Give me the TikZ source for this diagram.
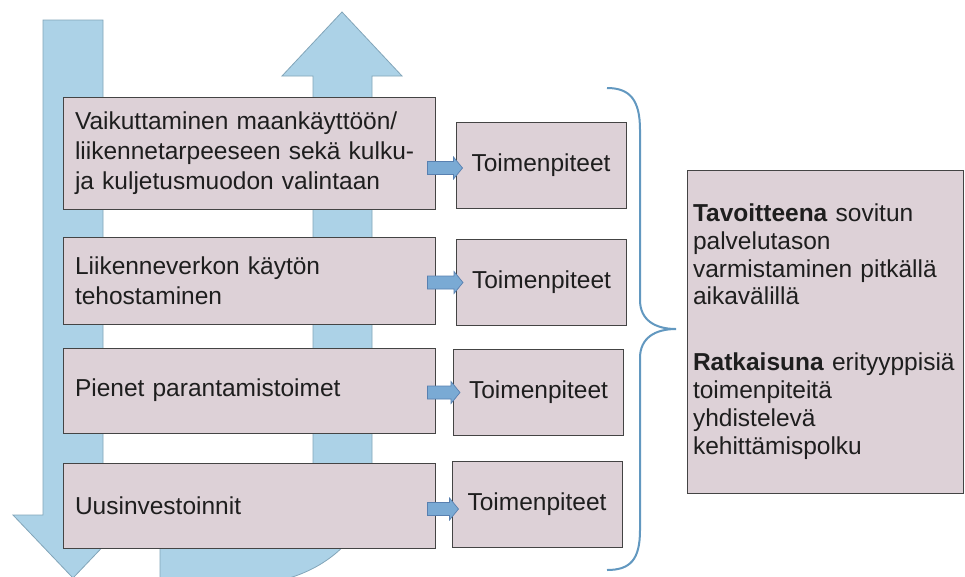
\documentclass[tikz,border=0pt]{standalone}
\usepackage{fontspec}
\setmainfont{Liberation Sans}
\usetikzlibrary{calc}
\definecolor{boxfill}{RGB}{221,209,215}
\definecolor{boxline}{RGB}{68,68,68}
\definecolor{flowblue}{RGB}{172,210,231}
\definecolor{flowline}{RGB}{130,165,185}
\definecolor{linkblue}{RGB}{122,170,212}
\definecolor{linkline}{RGB}{88,128,176}
\definecolor{bracecol}{RGB}{98,152,192}
\definecolor{ink}{RGB}{30,30,30}

\begin{document}
\begin{tikzpicture}[x=1pt,y=-1pt,
  stagebox/.style={draw=boxline, line width=1pt, fill=boxfill, rectangle, text=ink,
    align=left, text width=348pt, inner xsep=12pt, inner ysep=0pt,
    font=\fontsize{24.5}{30}\selectfont},
  actbox/.style={draw=boxline, line width=1pt, fill=boxfill, text=ink,
    minimum width=170pt, minimum height=86pt, inner sep=0pt,
    font=\fontsize{24.5}{30}\selectfont},
  goalbox/.style={draw=boxline, line width=1pt, fill=boxfill, text=ink,
    minimum width=276pt, minimum height=323pt, text width=264pt, inner xsep=6pt,
    align=left, font=\fontsize{24.5}{27.8}\selectfont},
  flow/.style={fill=flowblue, draw=flowline, line width=0.8pt, line join=miter},
  blockarrow/.style={fill=linkblue, draw=linkline, line width=0.7pt,
    to path={($(\tikztostart)+(0,-6.5)$) -- ($(\tikztotarget)+(-9,-6.5)$)
      -- ($(\tikztotarget)+(-9,-11)$) -- (\tikztotarget)
      -- ($(\tikztotarget)+(-9,11)$) -- ($(\tikztotarget)+(-9,6.5)$)
      -- ($(\tikztostart)+(0,6.5)$) -- cycle}},
]
\useasboundingbox (0,0) rectangle (965,576);
\clip (0,0) rectangle (965,576);
\fill[white] (0,0) rectangle (965,576);

% downward planning arrow
\path[flow] (43,20) -- (103,20) -- (103,515) -- (133,515) -- (73,578)
  -- (13,515) -- (43,515) -- cycle;
% upward arrow with its curved foot
\path[flow] (313,76) -- (282,76) -- (342,12) -- (402,76) -- (372,76) -- (372,480)
  .. controls (372,535) and (320,585) .. (240,585) -- (160,585) -- (160,500)
  -- (313,500) -- cycle;

% stages
\node[stagebox, minimum height=112pt] (B1) at (249,153)
  {Vaikuttaminen maankäyttöön/\\liikennetarpeeseen sekä kulku-\\ja kuljetusmuodon valintaan};
\node[stagebox, minimum height=87pt] (B2) at (249,280.5)
  {Liikenneverkon käytön\\tehostaminen};
\node[stagebox, minimum height=85pt] (B3) at (249,390.5)
  {Pienet parantamistoimet};
\node[stagebox, minimum height=85pt] (B4) at (249,505.5)
  {Uusinvestoinnit};

% measures
\node[actbox] (T1) at (541,165) {Toimenpiteet};
\node[actbox] (T2) at (541.5,282.5) {Toimenpiteet};
\node[actbox] (T3) at (538.5,392.5) {Toimenpiteet};
\node[actbox] (T4) at (537,504) {Toimenpiteet};

% links from stages to measures
\draw[blockarrow] ($(B1.east |- T1.west)+(-8,3)$) to ($(T1.west)+(7,3)$);
\draw[blockarrow] ($(B2.east |- T2.west)+(-8,0)$) to ($(T2.west)+(7,0)$);
\draw[blockarrow] ($(B3.east |- T3.west)+(-8,0)$) to ($(T3.west)+(7,0)$);
\draw[blockarrow] ($(B4.east |- T4.west)+(-8,5)$) to ($(T4.west)+(7,5)$);

% brace
\draw[bracecol, line width=2pt] (607,88) .. controls (630,88) and (640,100) .. (640,130)
  -- (640,300) .. controls (640,320) and (655,329) .. (676,329)
  .. controls (655,329) and (640,338) .. (640,358)
  -- (640,530) .. controls (640,560) and (630,570) .. (607,570);

% goal
\node[goalbox] (R) at (825,331.5)
  {\textbf{Tavoitteena} sovitun\\palvelutason\\varmistaminen pitkällä\\aikavälillä\\[38pt]%
   \textbf{Ratkaisuna} erityyppisiä\\toimenpiteitä\\yhdistelevä\\kehittämispolku};
\end{tikzpicture}
\end{document}
